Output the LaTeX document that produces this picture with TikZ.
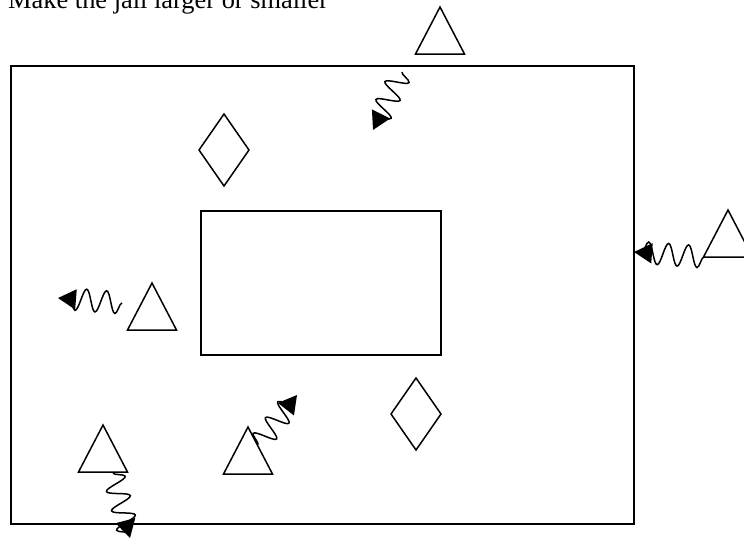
\documentclass[tikz,border=0pt]{standalone}
\usepackage{fontspec}
\setmainfont{Liberation Serif}
\usetikzlibrary{arrows.meta,decorations.pathmorphing}
\begin{document}
\begin{tikzpicture}[x=1pt,y=-1pt,line join=miter,
  outl/.style={draw=black,line width=1.5pt},
  tri/.pic={\draw[outl] (0,0) -- (24.5,47) -- (-24.5,47) -- cycle;},
  dia/.pic={\draw[outl] (0,-36) -- (25,0) -- (0,36) -- (-25,0) -- cycle;},
  squig/.style={draw=black,line width=1.5pt,
    -{Triangle[length=18pt,width=20pt]},
    decorate,decoration={snake,amplitude=11pt,segment length=20pt,post length=3pt,pre length=0pt}}]
\useasboundingbox (0,0) rectangle (744,539);
\clip (0,0) rectangle (744,539);
\fill[white] (0,0) rectangle (744,539);
\node[anchor=base west,inner sep=0pt,font=\fontsize{26.4}{30}\selectfont] (title) at (8,8) {Make the jail larger or smaller};
\node[outl,rectangle,minimum width=623pt,minimum height=458pt,inner sep=0pt,anchor=north west] (yard) at (10,65) {};
\node[outl,rectangle,minimum width=240pt,minimum height=144pt,inner sep=0pt,anchor=north west] (cell) at (200,210) {};
\pic at (440,7) {tri};
\pic at (728,210) {tri};
\pic at (152,283) {tri};
\pic at (248,427) {tri};
\pic at (103,425) {tri};
\pic at (224,150) {dia};
\pic at (416,414) {dia};
\coordinate (s1) at (402,72);  \coordinate (e1) at (373,130);
\coordinate (s2) at (704,257); \coordinate (e2) at (634,252);
\coordinate (s3) at (122,303); \coordinate (e3) at (58,298);
\coordinate (s4) at (258,445); \coordinate (e4) at (297,395);
\coordinate (s5) at (113,473); \coordinate (e5) at (130,538);
\draw[squig] (s1) -- (e1);
\draw[squig] (s2) -- (e2);
\draw[squig] (s3) -- (e3);
\draw[squig] (s4) -- (e4);
\draw[squig] (s5) -- (e5);
\end{tikzpicture}
\end{document}
